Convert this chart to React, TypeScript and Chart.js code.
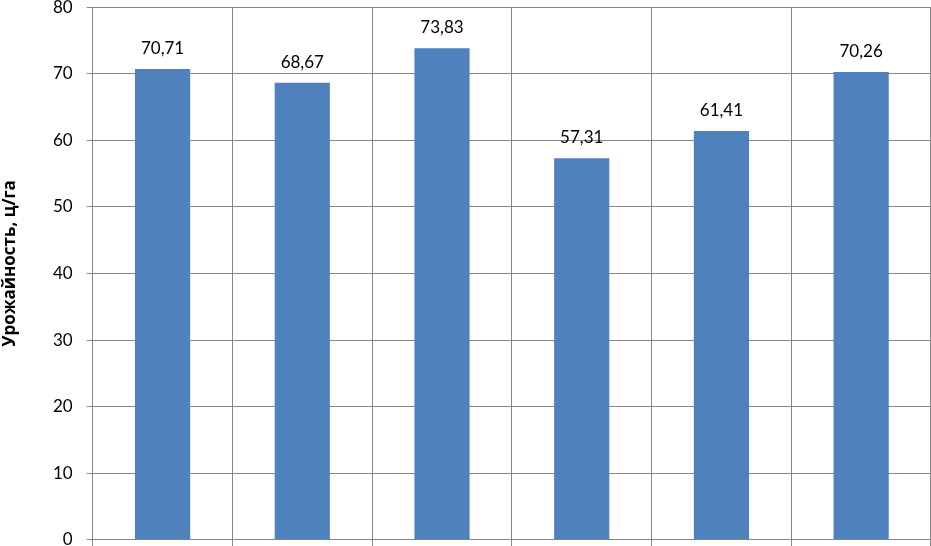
import { useEffect, useRef } from "react";
import { Chart, registerables } from "chart.js";
Chart.register(...registerables);

const categories = ["1", "2", "3", "4", "5", "6"];
const yields = [70.71, 68.67, 73.83, 57.31, 61.41, 70.26];
const yMin = 0;
const yMax = 80;
const yStep = 10;
const yTitle = "Урожайность, ц/га";

const FONT = "Lato, 'Open Sans', sans-serif";
const TITLE_FONT = "'Open Sans', 'Noto Sans', sans-serif";
const GRID = "#878787";

const valueLabels = {
  id: "valueLabels",
  afterDatasetsDraw(chart: any) {
    const ctx = chart.ctx;
    const meta = chart.getDatasetMeta(0);
    ctx.save();
    ctx.font = `17px ${FONT}`;
    ctx.fillStyle = "#000";
    ctx.textAlign = "center";
    ctx.textBaseline = "alphabetic";
    meta.data.forEach((bar: any, i: number) => {
      const v = yields[i];
      ctx.fillText(v.toFixed(2).replace(".", ","), bar.x, bar.y - 15);
    });
    ctx.restore();
  },
};

// Y-axis title, placed slightly above the plot's vertical centre as in the reference
const axisTitle = {
  id: "axisTitle",
  afterDraw(chart: any) {
    const ctx = chart.ctx;
    const area = chart.chartArea;
    ctx.save();
    ctx.font = `bold 17px ${TITLE_FONT}`;
    ctx.fillStyle = "#000";
    ctx.textAlign = "center";
    ctx.textBaseline = "middle";
    ctx.translate(10.5, (area.top + area.bottom) / 2 - 10);
    ctx.rotate(-Math.PI / 2);
    ctx.fillText(yTitle, 0, 0);
    ctx.restore();
  },
};

export default function App() {
  const ref = useRef<HTMLCanvasElement>(null);
  useEffect(() => {
    if (!ref.current) return;
    const chart = new Chart(ref.current, {
      type: "bar",
      data: {
        labels: categories,
        datasets: [
          {
            data: yields,
            backgroundColor: "#4F81BD",
            categoryPercentage: 1,
            barPercentage: 0.395,
          },
        ],
      },
      options: {
        animation: false,
        responsive: true,
        maintainAspectRatio: false,
        layout: { padding: { left: 39, right: 0, top: 0, bottom: 0 } },
        plugins: { legend: { display: false }, tooltip: { enabled: false } },
        scales: {
          x: {
            grid: {
              display: true,
              offset: true,
              color: GRID,
              lineWidth: 1,
              drawTicks: true,
              tickLength: 7,
            },
            border: { display: true, color: GRID },
            ticks: { display: false },
          },
          y: {
            min: yMin,
            max: yMax,
            ticks: {
              stepSize: yStep,
              color: "#000",
              font: { family: FONT, size: 17 },
              padding: 14,
            },
            grid: { color: GRID, lineWidth: 1, tickLength: 6 },
            border: { display: true, color: GRID },
            title: { display: false },
          },
        },
      },
      plugins: [valueLabels, axisTitle],
    });
    return () => chart.destroy();
  }, []);
  return (
    <div style={{ position: "fixed", left: 0, top: 0, width: 931, height: 546, overflow: "hidden", background: "#fff" }}>
      <div style={{ position: "absolute", left: 0, top: -17, width: 931, height: 581 }}>
        <canvas ref={ref} />
      </div>
    </div>
  );
}
